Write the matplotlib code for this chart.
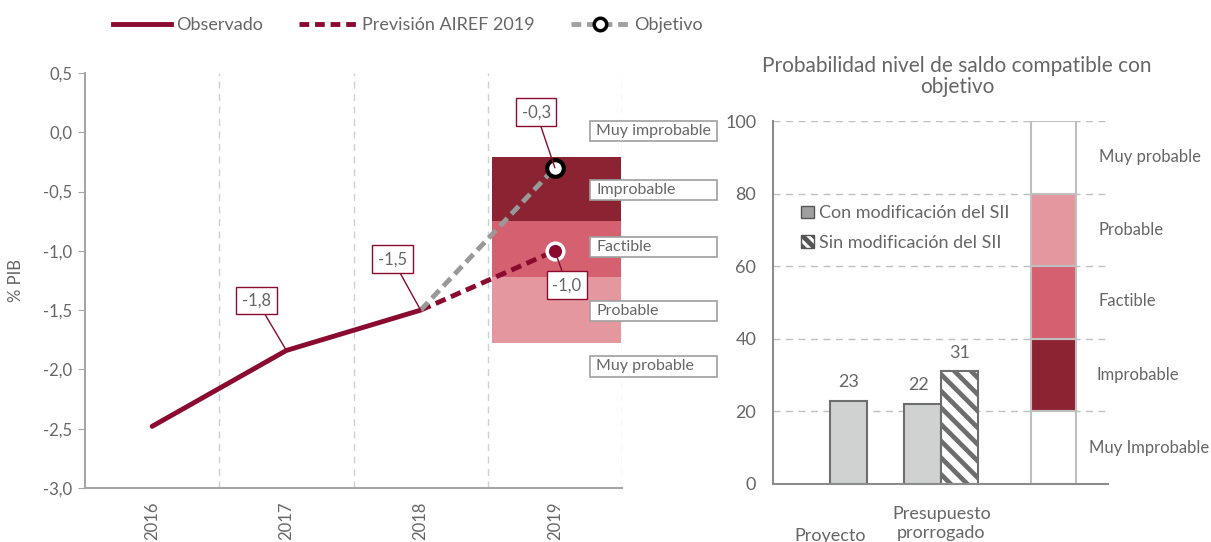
import matplotlib
matplotlib.use("Agg")
import matplotlib.pyplot as plt
from matplotlib.lines import Line2D
from matplotlib.patches import Patch, Rectangle

plt.rcParams["font.family"] = ["Lato", "DejaVu Sans"]
plt.rcParams["font.weight"] = "normal"
plt.rcParams["hatch.linewidth"] = 3.4
plt.rcParams["hatch.color"] = "#404040"

# ---- data: left panel ----
years = ["2016", "2017", "2018", "2019"]
observado = [-2.48, -1.84, -1.50]
prevision = [-1.50, -1.00]
objetivo = [-1.50, -0.30]
band_edges = [-0.21, -0.75, -1.22, -1.78]  # top -> bottom of the 2019 bands
band_names = ["Muy improbable", "Improbable", "Factible", "Probable", "Muy probable"]

# ---- data: right panel ----
bar_groups = ["Proyecto", "Presupuesto\nprorrogado"]
con_mod = [23, 22]
sin_mod = [31]
prob_edges = [0, 20, 40, 60, 80, 100]
prob_names = ["Muy Improbable", "Improbable", "Factible", "Probable", "Muy probable"]

DARK = "#8A0B2F"
BAND = ["#8C2332", "#D5606F", "#E4979F"]
TXT = "#666666"
SPINE = "#A6A6A6"

fig = plt.figure(figsize=(12.11, 5.42), dpi=100)

# ================= left panel =================
ax = fig.add_axes([85 / 1211, 1 - 488 / 542, 537 / 1211, 415 / 542])
ax.set_xlim(-0.5, 3.5)
ax.set_ylim(-3.0, 0.5)

# probability bands for 2019
for i, c in enumerate(BAND):
    ax.bar(2.53, band_edges[i + 1] - band_edges[i], bottom=band_edges[i],
           width=0.965, align="edge", color=c, zorder=1)

ax.plot([0, 1, 2], observado, color=DARK, lw=3.5, solid_capstyle="round", zorder=3)
ax.plot([2, 3], prevision, color=DARK, lw=3.5, ls=(0, (2.2, 1.2)), zorder=3)
ax.plot([2, 3], objetivo, color="#999999", lw=3.5, ls=(0, (2.2, 1.2)), zorder=3)
ax.plot([3], [prevision[-1]], "o", ms=12, mfc=DARK, mec="white", mew=2.5, zorder=4)
ax.plot([3], [objetivo[-1]], "o", ms=12, mfc="white", mec="black", mew=3, zorder=4)

# value callouts
callouts = [(1, observado[1], 0.78, -1.42), (2, observado[2], 1.79, -1.07),
            (3, objetivo[1], 2.86, 0.17), (3, prevision[1], 3.09, -1.29)]
for x, y, tx, ty in callouts:
    ax.annotate(f"{y:.1f}".replace(".", ","), xy=(x, y), xytext=(tx, ty),
                ha="center", va="center", fontsize=12, color=TXT, zorder=5,
                bbox=dict(boxstyle="square,pad=0.35", fc="white", ec=DARK, lw=1),
                arrowprops=dict(arrowstyle="-", color=DARK, lw=1, shrinkA=0, shrinkB=0))

# band name boxes
band_y = [0.01, -0.49, -0.97, -1.51, -1.975]
for name, y in zip(band_names, band_y):
    ax.add_patch(Rectangle((3.265, y - 0.085), 0.945, 0.17, fc="white",
                           ec="#A0A0A0", lw=1.2, clip_on=False, zorder=5))
    ax.text(3.31, y, name, ha="left", va="center", fontsize=11.5, color=TXT,
            clip_on=False, zorder=6)

for xv in [0.5, 1.5, 2.5, 3.5]:
    ax.axvline(xv, color="#D0D0D0", lw=1, ls=(0, (5, 4)), zorder=0)

ax.set_xticks(range(len(years)))
ax.set_xticklabels(years, rotation=90, fontsize=12, color=TXT)
ax.tick_params(axis="x", length=0, pad=10)
ax.set_yticks([0.5, 0.0, -0.5, -1.0, -1.5, -2.0, -2.5, -3.0])
ax.set_yticklabels(["0,5", "0,0", "-0,5", "-1,0", "-1,5", "-2,0", "-2,5", "-3,0"],
                   fontsize=12, color=TXT)
ax.tick_params(axis="y", length=5, color=SPINE, pad=4)
ax.set_ylabel("% PIB", fontsize=12, color=TXT, labelpad=14)
for s in ["top", "right"]:
    ax.spines[s].set_visible(False)
for s in ["left", "bottom"]:
    ax.spines[s].set_color(SPINE)
    ax.spines[s].set_linewidth(1.5)

handles = [
    Line2D([], [], color=DARK, lw=3.5),
    Line2D([], [], color=DARK, lw=3.5, ls=(0, (2, 1.2))),
    Line2D([], [], color="#A0A0A0", lw=3.5, ls=(0, (2, 1.2)), marker="o",
           ms=9, mfc="white", mec="black", mew=2.5),
]
fig.legend(handles, ["Observado", "Previsión AIREF 2019", "Objetivo"], ncol=3,
           loc="center", bbox_to_anchor=(408 / 1211, 1 - 25 / 542), frameon=False,
           fontsize=13, labelcolor=TXT, handlelength=3.2, handletextpad=0.3,
           columnspacing=2.0)

# ================= right panel =================
bx = fig.add_axes([773 / 1211, 1 - 484 / 542, 335 / 1211, 363 / 542])
bx.set_xlim(0, 9.05)
bx.set_ylim(0, 100)
bx.set_axisbelow(True)

bx.bar([2.03, 4.04], con_mod, width=1.0, color="#D0D2D1", ec="#6E6E6E", lw=1.5)
bx.bar([5.04], sin_mod, width=1.0, color="white", ec="#6E6E6E", lw=1.5, hatch="\\\\")
for x, v in zip([2.03, 3.93, 5.04], con_mod + sin_mod):
    bx.text(x, v + 3, str(v), ha="center", va="bottom", fontsize=13, color=TXT)

prob_fill = ["white", BAND[0], BAND[1], BAND[2], "white"]
for i, c in enumerate(prob_fill):
    bx.bar(7.58, prob_edges[i + 1] - prob_edges[i], bottom=prob_edges[i],
           width=1.22, color=c, ec="#BFBFBF", lw=1.5)
label_y = [10, 30, 50.5, 70, 90]
label_x = [8.55, 8.75, 8.78, 8.78, 8.8]
for name, x, y in zip(prob_names, label_x, label_y):
    bx.text(x, y, name, ha="left", va="center", fontsize=12, color=TXT, clip_on=False)

bx.yaxis.grid(True, color="#BFBFBF", lw=1, ls=(0, (5, 4)))
bx.set_yticks([0, 20, 40, 60, 80, 100])
bx.tick_params(axis="y", length=0, labelsize=13, labelcolor=TXT, pad=12)
bx.set_xticks([1.55, 4.55])
bx.set_xticklabels(bar_groups, fontsize=13, color=TXT)
bx.get_xticklabels()[0].set_y(-0.06)
bx.tick_params(axis="x", length=0, pad=16)
for s in ["top", "right"]:
    bx.spines[s].set_visible(False)
for s in ["left", "bottom"]:
    bx.spines[s].set_color("#8C8C8C")
    bx.spines[s].set_linewidth(1.5)

bx.set_title("Probabilidad nivel de saldo compatible con\nobjetivo", fontsize=15,
             color=TXT, pad=20, x=(957 - 773) / 335, linespacing=1.1)

leg_handles = [Patch(fc="#A0A0A0", ec="#555555", lw=1),
               Patch(fc="white", ec="#555555", lw=1, hatch="\\\\\\")]
bx.legend(leg_handles, ["Con modificación del SII", "Sin modificación del SII"],
          loc="upper left", bbox_to_anchor=(785 / 1211, 1 - 189 / 542),
          bbox_transform=fig.transFigure, frameon=False, fontsize=13,
          labelcolor=TXT, handlelength=0.7, handleheight=0.7, handletextpad=0.3,
          labelspacing=0.75)

fig.savefig("out.png", dpi=100)
